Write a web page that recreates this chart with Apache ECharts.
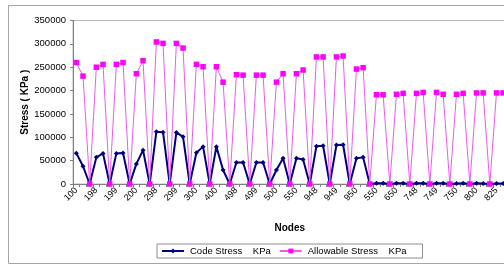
<!DOCTYPE html>
<html>
<head>
<meta charset="utf-8">
<script src="https://cdn.jsdelivr.net/npm/echarts@6/dist/echarts.min.js"></script>
<style>
  html, body { margin: 0; padding: 0; background: #fff; overflow: hidden; }
  #chart { width: 540px; height: 265px; }
</style>
</head>
<body>
<div id="chart"></div>
<script>
// node labels shown under every 3rd point (start node of each element)
var nodeLabels = ['100', '198', '199', '200', '298', '299', '300', '400', '498', '499', '500',
    '550', '948', '949', '950', '550', '650', '748', '749', '750', '800', '825'];

// Code Stress KPa
var codeStress = [
    66000, 38000, 0, 57000, 65500, 0, 65500, 66500, 0, 43000, 72500, 0,
    112000, 111000, 0, 110500, 101000, 0, 67000, 80000, 0, 80000, 30000, 0,
    46000, 46000, 0, 46000, 46000, 0, 30000, 55000, 0, 55000, 52500, 0,
    81000, 82000, 0, 83500, 84000, 0, 55000, 57000, 0, 1500, 1500, 0,
    1500, 1800, 0, 1600, 1500, 0, 1800, 1400, 0, 1300, 1500, 0,
    1400, 1200, 0, 1000, 1200
];

// Allowable Stress KPa
var allowStress = [
    260000, 231000, 0, 250000, 256000, 0, 256000, 260000, 0, 236000, 264000, 0,
    304000, 301000, 0, 301000, 291000, 0, 256000, 251000, 0, 251000, 218000, 0,
    234000, 233000, 0, 233000, 233000, 0, 218000, 236000, 0, 236000, 244000, 0,
    272000, 272000, 0, 272000, 274000, 0, 246000, 249000, 0, 191000, 191000, 0,
    192000, 194000, 0, 194000, 196000, 0, 196000, 192000, 0, 192000, 194000, 0,
    195000, 195000, 0, 195000, 195000
];

var yTicks = [0, 50000, 100000, 150000, 200000, 250000, 300000, 350000];

// each element: start node, end node, blank row
var categories = [];
for (var k = 0; k < nodeLabels.length; k++) {
    categories.push(nodeLabels[k]);
    categories.push(nodeLabels[k + 1] || '');
    if (categories.length < codeStress.length) {
        categories.push(' ');
    }
}
categories = categories.slice(0, codeStress.length);

var font = 'Liberation Sans, Arial, sans-serif';
var chart = echarts.init(document.getElementById('chart'), null, { renderer: 'canvas' });

chart.setOption({
    animation: false,
    backgroundColor: '#fff',
    textStyle: { fontFamily: font },
    graphic: [{
        type: 'rect',
        shape: { x: 8.5, y: 5.5, width: 700, height: 258 },
        style: { fill: 'none', stroke: '#a6a6a6', lineWidth: 1 },
        silent: true
    }],
    grid: {
        left: 73,
        right: 33.5,
        top: 20.5,
        bottom: 81,
        show: true,
        borderColor: '#b8b8b8',
        borderWidth: 1
    },
    legend: {
        left: 157,
        top: 244,
        orient: 'horizontal',
        padding: [2, 16, 2, 4],
        itemGap: 8,
        itemWidth: 22,
        itemHeight: 6,
        borderColor: '#8c8c8c',
        borderWidth: 1,
        borderRadius: 0,
        textStyle: { fontFamily: font, fontSize: 9.5, color: '#000', padding: [0, 0, 0, 1] },
        data: ['Code Stress    KPa', 'Allowable Stress    KPa']
    },
    xAxis: {
        type: 'category',
        data: categories,
        boundaryGap: true,
        name: 'Nodes',
        nameLocation: 'middle',
        nameGap: 39,
        nameMoveOverlap: false,
        nameTextStyle: { fontFamily: font, fontSize: 10, fontWeight: 'bold', color: '#000' },
        axisLine: { lineStyle: { color: '#808080', width: 1 } },
        axisTick: { show: true, interval: 0, length: 3, lineStyle: { color: '#808080' } },
        axisLabel: {
            interval: 2,
            rotate: 45,
            margin: 5,
            fontFamily: font,
            fontSize: 9,
            color: '#000'
        },
        splitLine: { show: false }
    },
    yAxis: {
        type: 'value',
        min: yTicks[0],
        max: yTicks[yTicks.length - 1],
        interval: 50000,
        name: 'Stress ( KPa )',
        nameLocation: 'middle',
        nameGap: 43,
        nameMoveOverlap: false,
        nameRotate: 90,
        nameTextStyle: { fontFamily: font, fontSize: 10, fontWeight: 'bold', color: '#000' },
        axisLine: { show: true, lineStyle: { color: '#808080', width: 1 } },
        axisTick: { show: true, length: 3, lineStyle: { color: '#808080' } },
        axisLabel: {
            margin: 7,
            fontFamily: font,
            fontSize: 9.5,
            color: '#000',
            formatter: function (v) { return String(v); }
        },
        splitLine: { show: false }
    },
    series: [
        {
            name: 'Code Stress    KPa',
            type: 'line',
            data: codeStress,
            symbol: 'diamond',
            symbolSize: 5,
            showAllSymbol: true,
            lineStyle: { color: '#000080', width: 2 },
            itemStyle: { color: '#000080' }
        },
        {
            name: 'Allowable Stress    KPa',
            type: 'line',
            data: allowStress,
            symbol: 'rect',
            symbolSize: 5.5,
            showAllSymbol: true,
            lineStyle: { color: '#e85ee8', width: 1 },
            itemStyle: { color: '#ff00ff' }
        }
    ]
});
</script>
</body>
</html>
